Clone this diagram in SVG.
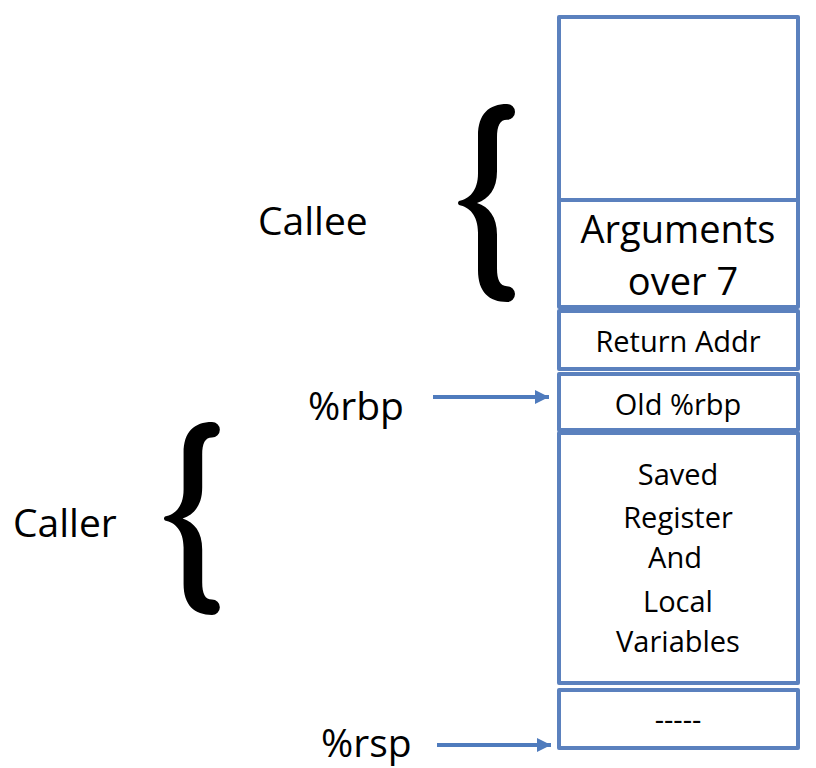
<svg xmlns="http://www.w3.org/2000/svg" width="816" height="768" viewBox="0 0 816 768">
<style>
.box{fill:#fff;stroke:#5B81BE;stroke-width:4;stroke-linejoin:round}
.t{font-family:"Open Sans","Liberation Sans",sans-serif;fill:#000}
.lbl{font-size:39px}
.big{font-size:38px;text-anchor:middle}
.mid{font-size:29px;text-anchor:middle}
.conn{stroke:#4F7BBD;stroke-width:4;fill:none}
.brace{fill:#000}
</style>
<defs>
<marker id="ah" markerUnits="userSpaceOnUse" markerWidth="16" markerHeight="16" refX="14" refY="7" orient="auto">
<path d="M0,0 L14,7 L0,14 Z" fill="#4F7BBD"/>
</marker>
<path id="bracePath" d="M50,0 C32,0 21,10 21,32 L21,70 C21,88 12,96 2,98 Q0,100 2,102 C12,104 21,112 21,130 L21,168 C21,190 32,200 50,200 A8,8 0 0 0 50,184 C43,184 40,178 40,166 L40,132 C40,114 32,104 20,100 C32,96 40,86 40,68 L40,34 C40,22 43,16 50,16 A8,8 0 0 0 50,0 Z"/>
</defs>

<g id="stack-top"><rect class="box" x="559" y="17" width="239" height="183"/></g>
<g id="arguments"><rect class="box" x="559" y="200" width="239" height="107"/>
<text class="t big" x="678" y="243">Arguments</text>
<text class="t big" x="683" y="295">over 7</text></g>
<g id="return-addr"><rect class="box" x="559" y="311" width="239" height="58"/>
<text class="t mid" x="678" y="352">Return Addr</text></g>
<g id="old-rbp"><rect class="box" x="559" y="374" width="239" height="56"/>
<text class="t mid" x="678" y="415">Old %rbp</text></g>
<g id="saved"><rect class="box" x="559" y="433" width="239" height="250"/>
<text class="t mid" x="678" y="485">Saved</text>
<text class="t mid" x="678" y="528">Register</text>
<text class="t mid" x="675" y="568">And</text>
<text class="t mid" x="678" y="612">Local</text>
<text class="t mid" x="678" y="652">Variables</text></g>
<g id="bottom"><rect class="box" x="559" y="690" width="239" height="58"/>
<text class="t mid" x="678" y="730">-----</text></g>

<g id="callee-brace"><use href="#bracePath" class="brace" transform="translate(457,104) scale(1,0.99)"/></g>
<g id="caller-brace"><use href="#bracePath" class="brace" transform="translate(163,422) scale(0.98,0.965)"/></g>

<g id="callee-label"><text class="t lbl" x="258" y="235">Callee</text></g>
<g id="caller-label"><text class="t lbl" x="13" y="537">Caller</text></g>
<g id="rbp-label"><text class="t lbl" x="308" y="420">%rbp</text></g>
<g id="rsp-label"><text class="t lbl" x="321" y="757">%rsp</text></g>

<g id="connectors">
<line class="conn" x1="433" y1="397" x2="549" y2="397" marker-end="url(#ah)"/>
<line class="conn" x1="437" y1="745" x2="551" y2="745" marker-end="url(#ah)"/>
</g>
</svg>
